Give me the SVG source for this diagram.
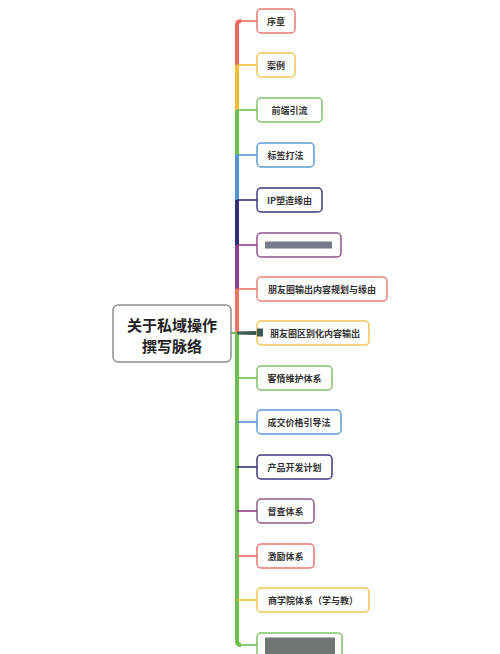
<svg xmlns="http://www.w3.org/2000/svg" width="500" height="654" viewBox="0 0 500 654">
<style>
.n rect.b{fill:#fff;stroke-width:1.5}
.n text{font-family:"Noto Sans CJK SC","Noto Sans",sans-serif;font-size:9px;font-weight:700;fill:#333;text-anchor:middle;dominant-baseline:central}
.root text{font-family:"Noto Sans CJK SC","Noto Sans",sans-serif;font-size:15px;font-weight:700;fill:#222;text-anchor:middle;dominant-baseline:central}
.t{fill:none;stroke-width:4;stroke-linecap:butt}
.h{fill:none;stroke-width:1.6}
.red{stroke:#e96a5d}.yel{stroke:#f2bd35}.grn{stroke:#6dbf4b}.blu{stroke:#5592d6}.nav{stroke:#30307c}.pur{stroke:#8d418d}.sal{stroke:#ee7562}
</style>
<rect width="500" height="654" fill="#fff"/>
<g id="connectors">
  <!-- trunk segments -->
  <path class="t red" d="M237 65 V25 Q237 21 241 21"/>
  <path class="t yel" d="M237 110 V65"/>
  <path class="t grn" d="M237 155 V110"/>
  <path class="t blu" d="M237 200 V155"/>
  <path class="t nav" d="M237 245 V200"/>
  <path class="t pur" d="M237 289 V245"/>
  <path class="t sal" d="M237 333 V289"/>
  <path class="t grn" d="M237 333 V641 Q237 645 241 645"/>
  <!-- horizontal branches -->
  <path class="h red" d="M240 21 H257"/>
  <path class="h yel" d="M237 65 H257"/>
  <path class="h grn" d="M237 110 H257"/>
  <path class="h blu" d="M237 155 H257"/>
  <path class="h nav" d="M237 200 H257"/>
  <path class="h pur" d="M237 245 H257"/>
  <path class="h sal" d="M237 289 H257"/>
  <path class="h grn" d="M237 378 H257"/>
  <path class="h blu" d="M237 422 H257"/>
  <path class="h nav" d="M237 467 H257"/>
  <path class="h pur" d="M237 511 H257"/>
  <path class="h red" d="M237 556 H257"/>
  <path class="h yel" d="M237 600 H257"/>
  <path class="h grn" d="M240 645 H257"/>
  <!-- root link -->
  <path d="M231 333 H237" stroke="#6dbf4b" stroke-width="2" fill="none"/>
  <polygon points="237,331.5 257,331 257,335 237,334.5" fill="#3d5a50"/>
</g>
<g id="root" class="root">
  <rect x="113" y="305" width="118" height="57" rx="5" fill="#fff" stroke="#8a8f98" stroke-width="1.5"/>
  <text x="172" y="324">关于私域操作</text>
  <text x="172" y="345">撰写脉络</text>
</g>
<g id="n1" class="n"><rect class="b" x="257" y="9" width="38" height="24" rx="4" stroke="#e57a70"/><text x="276" y="21">序章</text></g>
<g id="n2" class="n"><rect class="b" x="257" y="53" width="38" height="24" rx="4" stroke="#efc653"/><text x="276" y="65">案例</text></g>
<g id="n3" class="n"><rect class="b" x="257" y="98" width="65" height="24" rx="4" stroke="#80c46a"/><text x="289.5" y="110">前端引流</text></g>
<g id="n4" class="n"><rect class="b" x="257" y="143" width="57" height="24" rx="4" stroke="#5f9cd6"/><text x="285.5" y="155">标签打法</text></g>
<g id="n5" class="n"><rect class="b" x="257" y="188" width="65" height="24" rx="4" stroke="#3a3a7c"/><text x="289.5" y="200">IP塑造缘由</text></g>
<g id="n6" class="n"><rect class="b" x="257" y="233" width="84" height="24" rx="4" stroke="#94528f"/><rect x="265" y="241.5" width="67" height="7" fill="#5d6478" opacity="0.85"/></g>
<g id="n7" class="n"><rect class="b" x="257" y="277" width="130" height="24" rx="4" stroke="#e8837a"/><text x="322" y="289">朋友圈输出内容规划与缘由</text></g>
<g id="n8" class="n"><rect class="b" x="257" y="321" width="112" height="24" rx="4" stroke="#efc653"/><rect x="257" y="328.5" width="6" height="8" fill="#3f5a55"/><text x="315" y="333">朋友圈区别化内容输出</text></g>
<g id="n9" class="n"><rect class="b" x="257" y="366" width="75" height="24" rx="4" stroke="#80c46a"/><text x="294.5" y="378">客情维护体系</text></g>
<g id="n10" class="n"><rect class="b" x="257" y="410" width="84" height="24" rx="4" stroke="#5f9cd6"/><text x="299" y="422">成交价格引导法</text></g>
<g id="n11" class="n"><rect class="b" x="257" y="455" width="75" height="24" rx="4" stroke="#3a3a7c"/><text x="294.5" y="467">产品开发计划</text></g>
<g id="n12" class="n"><rect class="b" x="257" y="499" width="57" height="24" rx="4" stroke="#8e5a86"/><text x="285.5" y="511">督查体系</text></g>
<g id="n13" class="n"><rect class="b" x="257" y="544" width="57" height="24" rx="4" stroke="#e57a70"/><text x="285.5" y="556">激励体系</text></g>
<g id="n14" class="n"><rect class="b" x="257" y="588" width="112" height="24" rx="4" stroke="#efc653"/><text x="313" y="600">商学院体系（学与教）</text></g>
<g id="n15" class="n"><rect class="b" x="257" y="633" width="85" height="30" rx="4" stroke="#80c46a"/><rect x="265" y="637.5" width="70" height="20" fill="#5f6666" opacity="0.9"/></g>
</svg>
